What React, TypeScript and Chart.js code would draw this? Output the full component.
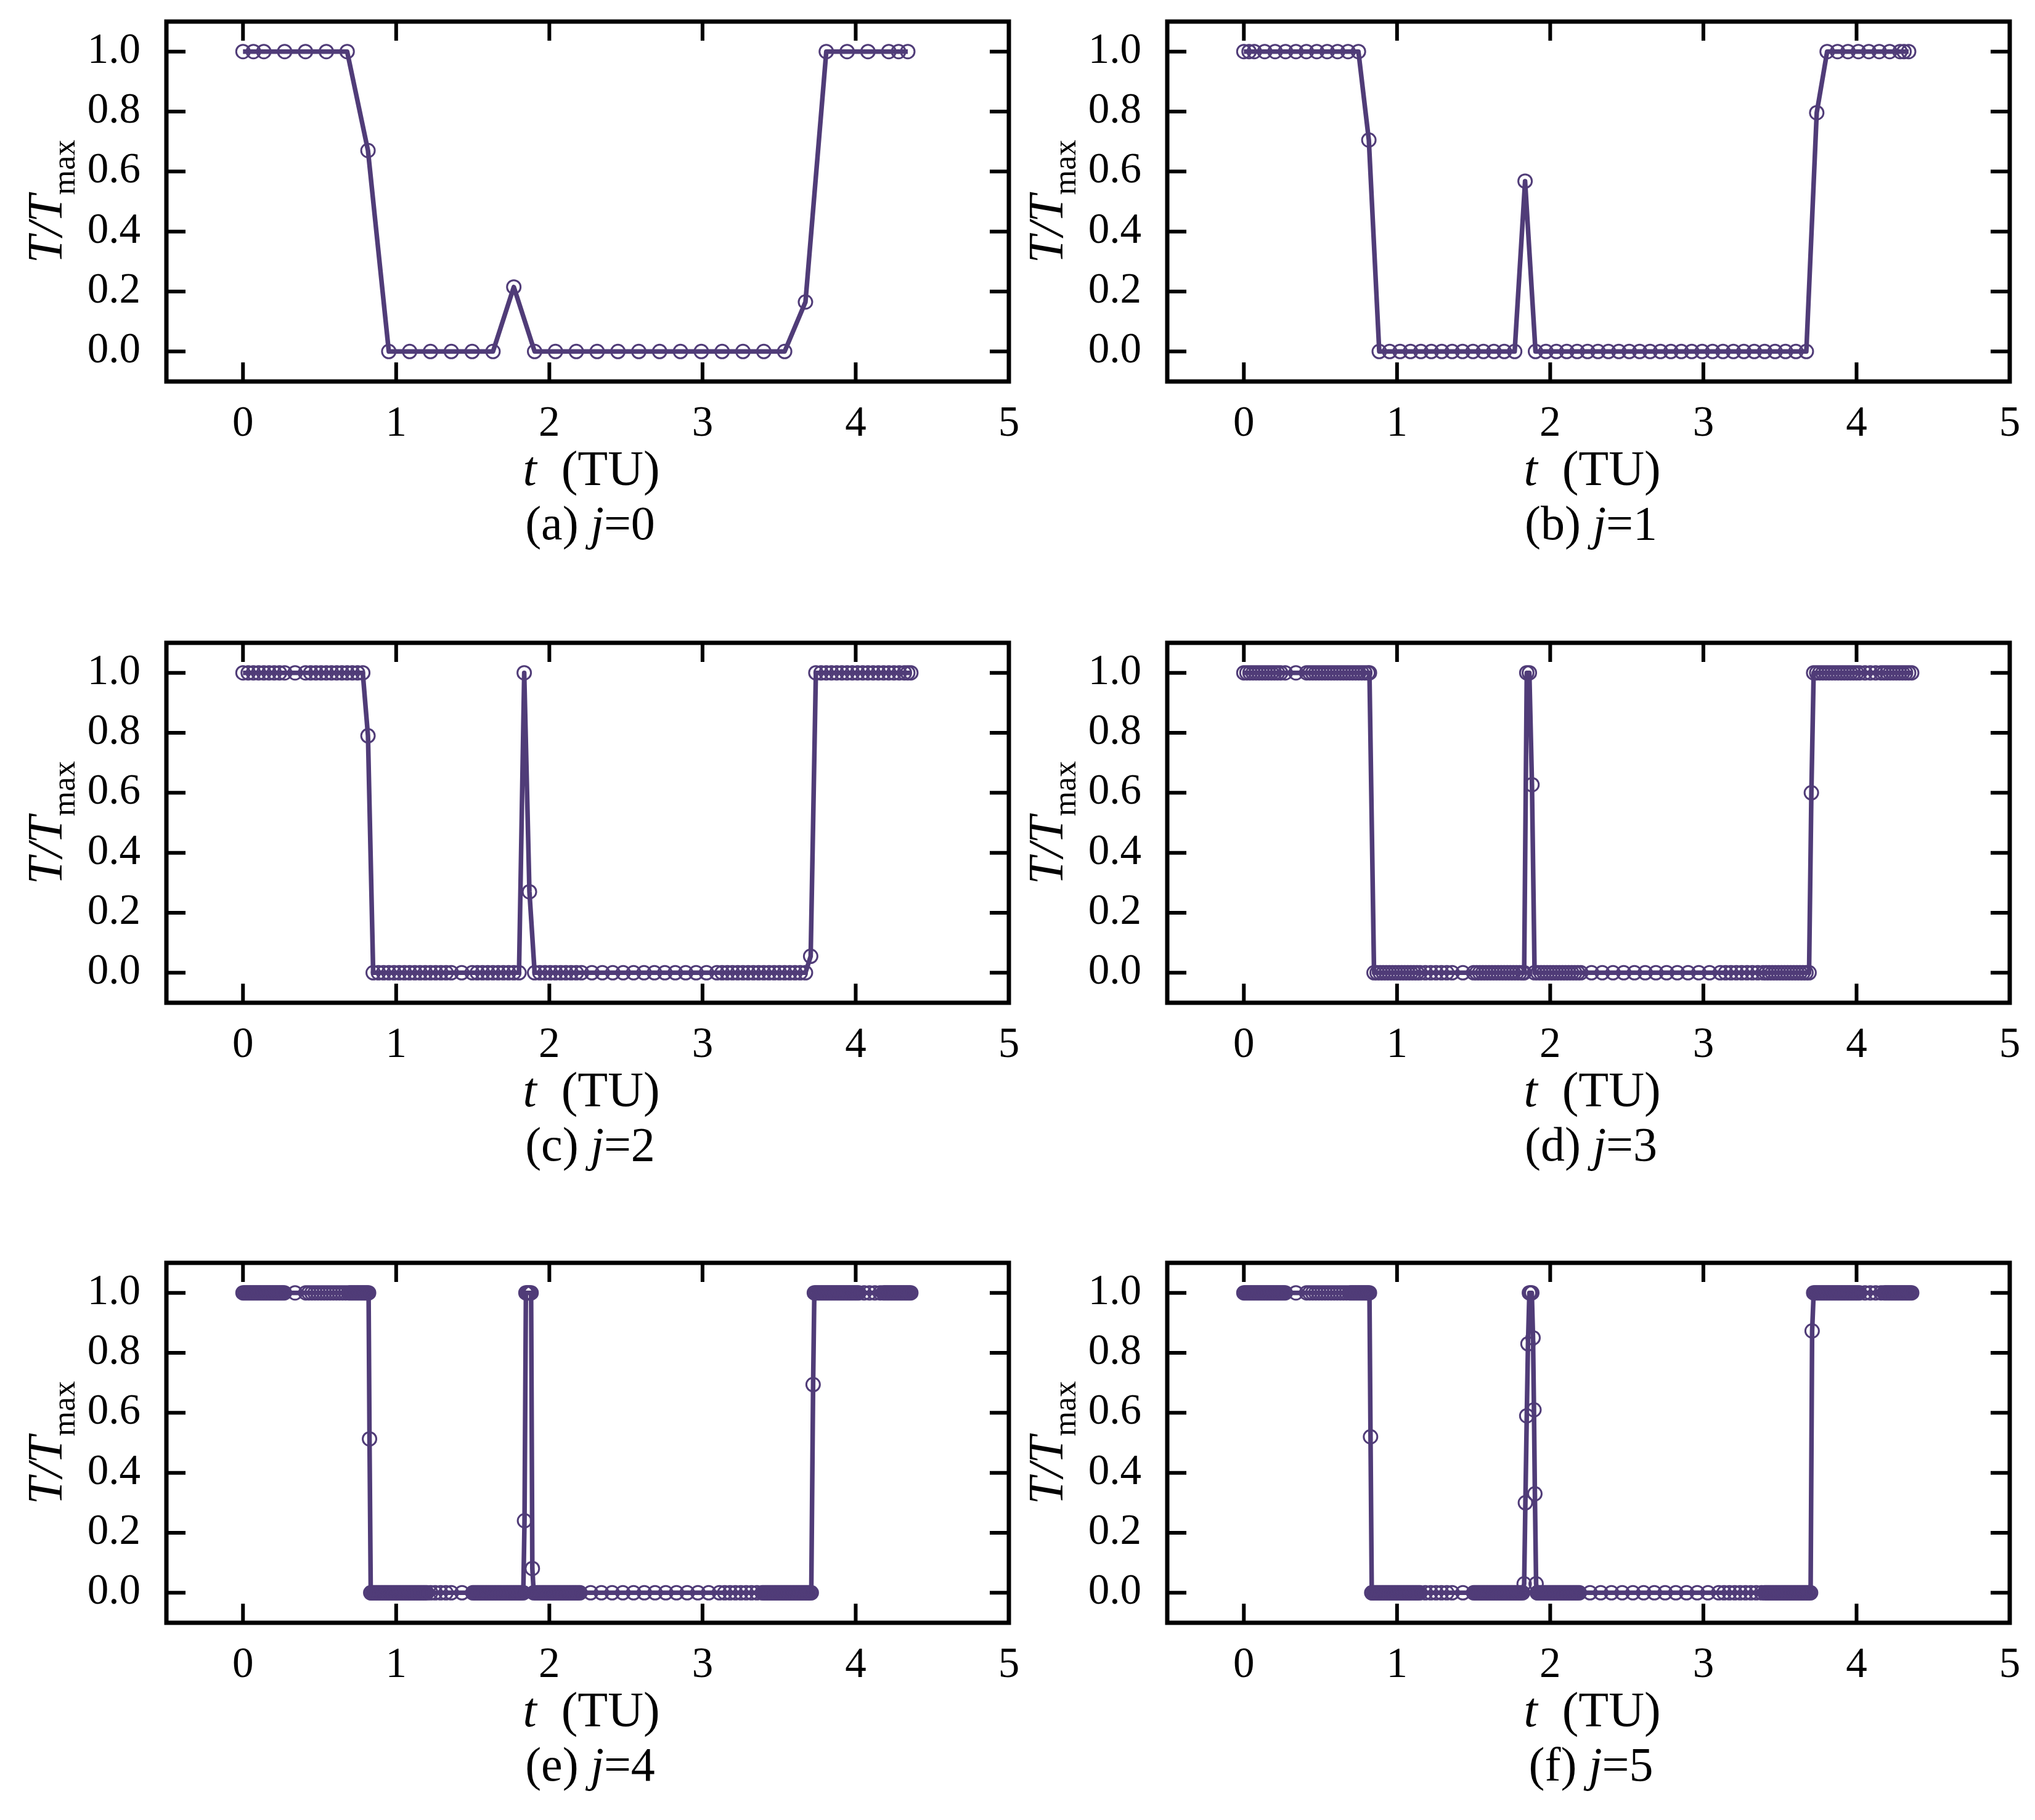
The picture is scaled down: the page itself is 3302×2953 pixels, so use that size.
import React, { useEffect, useRef } from 'react';
import { Chart, registerables } from 'chart.js';

Chart.register(...registerables);

// axis ticks
const xTicks = [0, 1, 2, 3, 4, 5];
const yTicks = [0, 0.2, 0.4, 0.6, 0.8, 1.0];

// panel captions: (letter) j=level
const captionLetters = ['(a)', '(b)', '(c)', '(d)', '(e)', '(f)'];
const levels = ['0', '1', '2', '3', '4', '5'];

// [t (TU), T/Tmax]
const seriesA: number[][] = [
  [0, 1], [0.068, 1], [0.136, 1], [0.272, 1], [0.408, 1], [0.544, 1], [0.68, 1],
  [0.816, 0.67],
  [0.952, 0], [1.088, 0], [1.224, 0], [1.36, 0], [1.496, 0], [1.632, 0],
  [1.768, 0.215],
  [1.904, 0], [2.04, 0], [2.176, 0], [2.312, 0], [2.448, 0], [2.584, 0], [2.72, 0],
  [2.856, 0], [2.992, 0], [3.128, 0], [3.264, 0], [3.4, 0], [3.536, 0],
  [3.672, 0.165],
  [3.808, 1], [3.944, 1], [4.08, 1], [4.216, 1], [4.28, 1], [4.34, 1],
];

const seriesB: number[][] = [
  [0, 1], [0.034, 1], [0.068, 1], [0.136, 1], [0.204, 1], [0.272, 1], [0.34, 1], [0.408, 1],
  [0.476, 1], [0.544, 1], [0.612, 1], [0.68, 1], [0.748, 1],
  [0.816, 0.705],
  [0.884, 0], [0.952, 0], [1.02, 0], [1.088, 0], [1.156, 0], [1.224, 0], [1.292, 0], [1.36, 0],
  [1.428, 0], [1.496, 0], [1.564, 0], [1.632, 0], [1.7, 0], [1.768, 0],
  [1.836, 0.568],
  [1.904, 0], [1.972, 0], [2.04, 0], [2.108, 0], [2.176, 0], [2.244, 0], [2.312, 0], [2.38, 0],
  [2.448, 0], [2.516, 0], [2.584, 0], [2.652, 0], [2.72, 0], [2.788, 0], [2.856, 0], [2.924, 0],
  [2.992, 0], [3.06, 0], [3.128, 0], [3.196, 0], [3.264, 0], [3.332, 0], [3.4, 0], [3.468, 0],
  [3.536, 0], [3.604, 0], [3.672, 0],
  [3.74, 0.796],
  [3.808, 1], [3.876, 1], [3.944, 1], [4.012, 1], [4.08, 1], [4.148, 1], [4.216, 1], [4.284, 1],
  [4.31, 1], [4.34, 1],
];

const seriesC: number[][] = [
  [0, 1], [0.034, 1], [0.068, 1], [0.102, 1], [0.136, 1], [0.17, 1], [0.204, 1], [0.238, 1],
  [0.272, 1], [0.34, 1], [0.408, 1], [0.442, 1], [0.476, 1], [0.51, 1], [0.544, 1], [0.578, 1],
  [0.612, 1], [0.646, 1], [0.68, 1], [0.714, 1], [0.748, 1], [0.782, 1],
  [0.816, 0.79],
  [0.85, 0], [0.884, 0], [0.918, 0], [0.952, 0], [0.986, 0], [1.02, 0], [1.054, 0], [1.088, 0],
  [1.122, 0], [1.156, 0], [1.19, 0], [1.224, 0], [1.258, 0], [1.292, 0], [1.326, 0], [1.36, 0],
  [1.428, 0], [1.496, 0], [1.53, 0], [1.564, 0], [1.598, 0], [1.632, 0], [1.666, 0], [1.7, 0],
  [1.734, 0], [1.768, 0], [1.802, 0],
  [1.836, 1], [1.87, 0.27],
  [1.904, 0], [1.938, 0], [1.972, 0], [2.006, 0], [2.04, 0], [2.074, 0], [2.108, 0], [2.142, 0],
  [2.176, 0], [2.21, 0], [2.278, 0], [2.346, 0], [2.414, 0], [2.482, 0], [2.55, 0], [2.618, 0],
  [2.686, 0], [2.754, 0], [2.822, 0], [2.89, 0], [2.958, 0], [3.026, 0], [3.094, 0], [3.128, 0],
  [3.162, 0], [3.196, 0], [3.23, 0], [3.264, 0], [3.298, 0], [3.332, 0], [3.366, 0], [3.4, 0],
  [3.434, 0], [3.468, 0], [3.502, 0], [3.536, 0], [3.57, 0], [3.604, 0], [3.638, 0], [3.672, 0],
  [3.706, 0.055],
  [3.74, 1], [3.774, 1], [3.808, 1], [3.842, 1], [3.876, 1], [3.91, 1], [3.944, 1], [3.978, 1],
  [4.012, 1], [4.046, 1], [4.08, 1], [4.114, 1], [4.148, 1], [4.182, 1], [4.216, 1], [4.25, 1],
  [4.284, 1], [4.318, 1], [4.34, 1], [4.36, 1],
];

const seriesD: number[][] = [
  [0, 1], [0.02, 1], [0.04, 1], [0.06, 1], [0.08, 1], [0.1, 1], [0.12, 1], [0.14, 1], [0.16, 1],
  [0.18, 1], [0.2, 1], [0.22, 1], [0.24, 1], [0.27, 1], [0.34, 1], [0.41, 1], [0.43, 1], [0.45, 1],
  [0.47, 1], [0.49, 1], [0.51, 1], [0.53, 1], [0.55, 1], [0.57, 1], [0.59, 1], [0.61, 1], [0.63, 1],
  [0.65, 1], [0.67, 1], [0.69, 1], [0.71, 1], [0.73, 1], [0.75, 1], [0.77, 1], [0.79, 1], [0.81, 1],
  [0.82, 1],
  [0.85, 0], [0.87, 0], [0.89, 0], [0.91, 0], [0.93, 0], [0.95, 0], [0.97, 0], [0.99, 0], [1.01, 0],
  [1.03, 0], [1.05, 0], [1.07, 0], [1.09, 0], [1.11, 0], [1.13, 0], [1.15, 0], [1.185, 0], [1.22, 0],
  [1.255, 0], [1.29, 0], [1.325, 0], [1.36, 0], [1.43, 0], [1.5, 0], [1.52, 0], [1.54, 0], [1.56, 0],
  [1.58, 0], [1.6, 0], [1.62, 0], [1.64, 0], [1.66, 0], [1.68, 0], [1.7, 0], [1.72, 0], [1.74, 0],
  [1.76, 0], [1.78, 0], [1.8, 0], [1.82, 0], [1.83, 0],
  [1.847, 1], [1.864, 1], [1.881, 0.627],
  [1.898, 0], [1.92, 0], [1.94, 0], [1.96, 0], [1.98, 0], [2, 0], [2.02, 0], [2.04, 0], [2.06, 0],
  [2.08, 0], [2.1, 0], [2.12, 0], [2.14, 0], [2.16, 0], [2.18, 0], [2.2, 0], [2.27, 0], [2.34, 0],
  [2.41, 0], [2.48, 0], [2.55, 0], [2.62, 0], [2.69, 0], [2.76, 0], [2.83, 0], [2.9, 0], [2.97, 0],
  [3.04, 0], [3.11, 0], [3.145, 0], [3.18, 0], [3.215, 0], [3.25, 0], [3.285, 0], [3.32, 0],
  [3.355, 0], [3.39, 0], [3.41, 0], [3.43, 0], [3.45, 0], [3.47, 0], [3.49, 0], [3.51, 0], [3.53, 0],
  [3.55, 0], [3.57, 0], [3.59, 0], [3.61, 0], [3.63, 0], [3.65, 0], [3.67, 0], [3.69, 0],
  [3.705, 0.6],
  [3.72, 1], [3.74, 1], [3.76, 1], [3.78, 1], [3.8, 1], [3.82, 1], [3.84, 1], [3.86, 1], [3.88, 1],
  [3.9, 1], [3.92, 1], [3.94, 1], [3.96, 1], [3.98, 1], [4, 1], [4.02, 1], [4.055, 1], [4.09, 1],
  [4.125, 1], [4.16, 1], [4.18, 1], [4.2, 1], [4.22, 1], [4.24, 1], [4.26, 1], [4.28, 1], [4.3, 1],
  [4.32, 1], [4.34, 1], [4.36, 1],
];

const seriesE: number[][] = [
  [0, 1], [0.01, 1], [0.02, 1], [0.03, 1], [0.04, 1], [0.05, 1], [0.06, 1], [0.07, 1], [0.08, 1],
  [0.09, 1], [0.1, 1], [0.11, 1], [0.12, 1], [0.13, 1], [0.14, 1], [0.15, 1], [0.16, 1], [0.17, 1],
  [0.18, 1], [0.19, 1], [0.2, 1], [0.21, 1], [0.22, 1], [0.23, 1], [0.24, 1], [0.25, 1], [0.26, 1],
  [0.27, 1], [0.34, 1], [0.41, 1], [0.43, 1], [0.45, 1], [0.47, 1], [0.49, 1], [0.51, 1], [0.53, 1],
  [0.55, 1], [0.57, 1], [0.59, 1], [0.61, 1], [0.63, 1], [0.65, 1], [0.67, 1], [0.69, 1], [0.7, 1],
  [0.71, 1], [0.72, 1], [0.73, 1], [0.74, 1], [0.75, 1], [0.76, 1], [0.77, 1], [0.78, 1], [0.79, 1],
  [0.8, 1], [0.81, 1], [0.82, 1],
  [0.826, 0.513],
  [0.834, 0], [0.84, 0], [0.85, 0], [0.86, 0], [0.87, 0], [0.88, 0], [0.89, 0], [0.9, 0], [0.91, 0],
  [0.92, 0], [0.93, 0], [0.94, 0], [0.95, 0], [0.96, 0], [0.97, 0], [0.98, 0], [0.99, 0], [1, 0],
  [1.01, 0], [1.02, 0], [1.03, 0], [1.04, 0], [1.05, 0], [1.06, 0], [1.07, 0], [1.08, 0], [1.09, 0],
  [1.1, 0], [1.11, 0], [1.12, 0], [1.13, 0], [1.14, 0], [1.15, 0], [1.16, 0], [1.17, 0], [1.18, 0],
  [1.19, 0], [1.2, 0], [1.225, 0], [1.255, 0], [1.29, 0], [1.325, 0], [1.36, 0], [1.43, 0], [1.5, 0],
  [1.51, 0], [1.52, 0], [1.53, 0], [1.54, 0], [1.55, 0], [1.56, 0], [1.57, 0], [1.58, 0], [1.59, 0],
  [1.6, 0], [1.61, 0], [1.62, 0], [1.63, 0], [1.64, 0], [1.65, 0], [1.66, 0], [1.67, 0], [1.68, 0],
  [1.69, 0], [1.7, 0], [1.71, 0], [1.72, 0], [1.73, 0], [1.74, 0], [1.75, 0], [1.76, 0], [1.77, 0],
  [1.78, 0], [1.79, 0], [1.8, 0], [1.81, 0], [1.82, 0], [1.83, 0],
  [1.838, 0.24], [1.847, 1], [1.855, 1], [1.864, 1], [1.872, 1], [1.881, 1], [1.889, 0.081],
  [1.898, 0], [1.91, 0], [1.92, 0], [1.93, 0], [1.94, 0], [1.95, 0], [1.96, 0], [1.97, 0], [1.98, 0],
  [1.99, 0], [2, 0], [2.01, 0], [2.02, 0], [2.03, 0], [2.04, 0], [2.05, 0], [2.06, 0], [2.07, 0],
  [2.08, 0], [2.09, 0], [2.1, 0], [2.11, 0], [2.12, 0], [2.13, 0], [2.14, 0], [2.15, 0], [2.16, 0],
  [2.17, 0], [2.18, 0], [2.19, 0], [2.2, 0], [2.27, 0], [2.34, 0], [2.41, 0], [2.48, 0], [2.55, 0],
  [2.62, 0], [2.69, 0], [2.76, 0], [2.83, 0], [2.9, 0], [2.97, 0], [3.04, 0], [3.11, 0], [3.145, 0],
  [3.18, 0], [3.215, 0], [3.25, 0], [3.285, 0], [3.32, 0], [3.355, 0], [3.39, 0], [3.4, 0], [3.41, 0],
  [3.42, 0], [3.43, 0], [3.44, 0], [3.45, 0], [3.46, 0], [3.47, 0], [3.48, 0], [3.49, 0], [3.5, 0],
  [3.51, 0], [3.52, 0], [3.53, 0], [3.54, 0], [3.55, 0], [3.56, 0], [3.57, 0], [3.58, 0], [3.59, 0],
  [3.6, 0], [3.61, 0], [3.62, 0], [3.63, 0], [3.64, 0], [3.65, 0], [3.66, 0], [3.67, 0], [3.68, 0],
  [3.69, 0], [3.7, 0], [3.71, 0],
  [3.722, 0.694],
  [3.73, 1], [3.74, 1], [3.75, 1], [3.76, 1], [3.77, 1], [3.78, 1], [3.79, 1], [3.8, 1], [3.81, 1],
  [3.82, 1], [3.83, 1], [3.84, 1], [3.85, 1], [3.86, 1], [3.87, 1], [3.88, 1], [3.89, 1], [3.9, 1],
  [3.91, 1], [3.92, 1], [3.93, 1], [3.94, 1], [3.95, 1], [3.96, 1], [3.97, 1], [3.98, 1], [3.99, 1],
  [4, 1], [4.01, 1], [4.02, 1], [4.055, 1], [4.09, 1], [4.125, 1], [4.16, 1], [4.18, 1], [4.19, 1],
  [4.2, 1], [4.21, 1], [4.22, 1], [4.23, 1], [4.24, 1], [4.25, 1], [4.26, 1], [4.27, 1], [4.28, 1],
  [4.29, 1], [4.3, 1], [4.31, 1], [4.32, 1], [4.33, 1], [4.34, 1], [4.35, 1], [4.36, 1],
];

const seriesF: number[][] = [
  [0, 1], [0.01, 1], [0.02, 1], [0.03, 1], [0.04, 1], [0.05, 1], [0.06, 1], [0.07, 1], [0.08, 1],
  [0.09, 1], [0.1, 1], [0.11, 1], [0.12, 1], [0.13, 1], [0.14, 1], [0.15, 1], [0.16, 1], [0.17, 1],
  [0.18, 1], [0.19, 1], [0.2, 1], [0.21, 1], [0.22, 1], [0.23, 1], [0.24, 1], [0.25, 1], [0.26, 1],
  [0.27, 1], [0.34, 1], [0.41, 1], [0.43, 1], [0.45, 1], [0.47, 1], [0.49, 1], [0.51, 1], [0.53, 1],
  [0.55, 1], [0.57, 1], [0.59, 1], [0.61, 1], [0.63, 1], [0.65, 1], [0.67, 1], [0.69, 1], [0.7, 1],
  [0.71, 1], [0.72, 1], [0.73, 1], [0.74, 1], [0.75, 1], [0.76, 1], [0.77, 1], [0.78, 1], [0.79, 1],
  [0.8, 1], [0.81, 1], [0.82, 1],
  [0.827, 0.52],
  [0.835, 0], [0.84, 0], [0.85, 0], [0.86, 0], [0.87, 0], [0.88, 0], [0.89, 0], [0.9, 0], [0.91, 0],
  [0.92, 0], [0.93, 0], [0.94, 0], [0.95, 0], [0.96, 0], [0.97, 0], [0.98, 0], [0.99, 0], [1, 0],
  [1.01, 0], [1.02, 0], [1.03, 0], [1.04, 0], [1.05, 0], [1.06, 0], [1.07, 0], [1.08, 0], [1.09, 0],
  [1.1, 0], [1.11, 0], [1.12, 0], [1.13, 0], [1.14, 0], [1.15, 0], [1.185, 0], [1.22, 0], [1.255, 0],
  [1.29, 0], [1.325, 0], [1.36, 0], [1.43, 0], [1.5, 0], [1.51, 0], [1.52, 0], [1.53, 0], [1.54, 0],
  [1.55, 0], [1.56, 0], [1.57, 0], [1.58, 0], [1.59, 0], [1.6, 0], [1.61, 0], [1.62, 0], [1.63, 0],
  [1.64, 0], [1.65, 0], [1.66, 0], [1.67, 0], [1.68, 0], [1.69, 0], [1.7, 0], [1.71, 0], [1.72, 0],
  [1.73, 0], [1.74, 0], [1.75, 0], [1.76, 0], [1.77, 0], [1.78, 0], [1.79, 0], [1.8, 0], [1.81, 0],
  [1.82, 0],
  [1.83, 0.03], [1.838, 0.3], [1.847, 0.59], [1.855, 0.83], [1.864, 1], [1.872, 1], [1.88, 1],
  [1.888, 0.85], [1.894, 0.61], [1.9, 0.33], [1.908, 0.03],
  [1.915, 0], [1.92, 0], [1.93, 0], [1.94, 0], [1.95, 0], [1.96, 0], [1.97, 0], [1.98, 0], [1.99, 0],
  [2, 0], [2.01, 0], [2.02, 0], [2.03, 0], [2.04, 0], [2.05, 0], [2.06, 0], [2.07, 0], [2.08, 0],
  [2.09, 0], [2.1, 0], [2.11, 0], [2.12, 0], [2.13, 0], [2.14, 0], [2.15, 0], [2.16, 0], [2.17, 0],
  [2.18, 0], [2.19, 0], [2.26, 0], [2.33, 0], [2.4, 0], [2.47, 0], [2.54, 0], [2.61, 0], [2.68, 0],
  [2.75, 0], [2.82, 0], [2.89, 0], [2.96, 0], [3.03, 0], [3.1, 0], [3.135, 0], [3.17, 0], [3.205, 0],
  [3.24, 0], [3.275, 0], [3.31, 0], [3.345, 0], [3.38, 0], [3.4, 0], [3.41, 0], [3.42, 0], [3.43, 0],
  [3.44, 0], [3.45, 0], [3.46, 0], [3.47, 0], [3.48, 0], [3.49, 0], [3.5, 0], [3.51, 0], [3.52, 0],
  [3.53, 0], [3.54, 0], [3.55, 0], [3.56, 0], [3.57, 0], [3.58, 0], [3.59, 0], [3.6, 0], [3.61, 0],
  [3.62, 0], [3.63, 0], [3.64, 0], [3.65, 0], [3.66, 0], [3.67, 0], [3.68, 0], [3.69, 0], [3.7, 0],
  [3.71, 0.873],
  [3.72, 1], [3.73, 1], [3.74, 1], [3.75, 1], [3.76, 1], [3.77, 1], [3.78, 1], [3.79, 1], [3.8, 1],
  [3.81, 1], [3.82, 1], [3.83, 1], [3.84, 1], [3.85, 1], [3.86, 1], [3.87, 1], [3.88, 1], [3.89, 1],
  [3.9, 1], [3.91, 1], [3.92, 1], [3.93, 1], [3.94, 1], [3.95, 1], [3.96, 1], [3.97, 1], [3.98, 1],
  [3.99, 1], [4, 1], [4.01, 1], [4.02, 1], [4.055, 1], [4.09, 1], [4.125, 1], [4.16, 1], [4.18, 1],
  [4.19, 1], [4.2, 1], [4.21, 1], [4.22, 1], [4.23, 1], [4.24, 1], [4.25, 1], [4.26, 1], [4.27, 1],
  [4.28, 1], [4.29, 1], [4.3, 1], [4.31, 1], [4.32, 1], [4.33, 1], [4.34, 1], [4.35, 1], [4.36, 1],
];

const allSeries = [seriesA, seriesB, seriesC, seriesD, seriesE, seriesF];

const LINE_COLOR = '#503c78';
const SERIF = "'Liberation Serif', 'Times New Roman', Times, serif";

const CANVAS_W = 1667;
const CANVAS_H = 904;

type Run = { text: string; font: string; dy?: number };

// draw a line of text made of differently styled pieces, centred on x
function drawRuns(ctx: CanvasRenderingContext2D, runs: Run[], x: number, y: number) {
  const widths = runs.map((r) => {
    ctx.font = r.font;
    return ctx.measureText(r.text).width;
  });
  const total = widths.reduce((s, w) => s + w, 0);
  let cx = x - total / 2;
  runs.forEach((r, i) => {
    ctx.font = r.font;
    ctx.fillText(r.text, cx, y + (r.dy || 0));
    cx += widths[i];
  });
}

function framePlugin(letter: string, level: string) {
  return {
    id: 'frameAndLabels',
    afterDraw(chart: any) {
      const { ctx, chartArea: a, scales } = chart;
      const sx = scales.x;
      const sy = scales.y;
      ctx.save();

      // box
      ctx.strokeStyle = '#000';
      ctx.lineWidth = 7;
      ctx.strokeRect(a.left, a.top, a.right - a.left, a.bottom - a.top);

      // inward ticks on all four sides
      const len = 31;
      ctx.lineWidth = 6;
      ctx.beginPath();
      xTicks.forEach((v) => {
        const px = sx.getPixelForValue(v);
        ctx.moveTo(px, a.bottom);
        ctx.lineTo(px, a.bottom - len);
        ctx.moveTo(px, a.top);
        ctx.lineTo(px, a.top + len);
      });
      yTicks.forEach((v) => {
        const py = sy.getPixelForValue(v);
        ctx.moveTo(a.left, py);
        ctx.lineTo(a.left + len, py);
        ctx.moveTo(a.right, py);
        ctx.lineTo(a.right - len, py);
      });
      ctx.stroke();

      ctx.fillStyle = '#000';
      ctx.textAlign = 'left';
      ctx.textBaseline = 'alphabetic';
      const cx = (a.left + a.right) / 2;

      // x axis title
      drawRuns(
        ctx,
        [
          { text: 't', font: `italic 80px ${SERIF}` },
          { text: '  (TU)', font: `80px ${SERIF}` },
        ],
        cx + 6,
        a.bottom + 168
      );

      // caption
      drawRuns(
        ctx,
        [
          { text: letter + ' ', font: `78px ${SERIF}` },
          { text: 'j', font: `italic 78px ${SERIF}` },
          { text: '=' + level, font: `78px ${SERIF}` },
        ],
        cx + 4,
        a.bottom + 256
      );

      // y axis title, rotated
      ctx.translate(a.left - 170, (a.top + a.bottom) / 2);
      ctx.rotate(-Math.PI / 2);
      drawRuns(
        ctx,
        [
          { text: 'T/T', font: `italic 80px ${SERIF}` },
          { text: 'max', font: `52px ${SERIF}`, dy: 21 },
        ],
        0,
        0
      );
      ctx.restore();
    },
  };
}

const Panel: React.FC<{ index: number }> = ({ index }) => {
  const canvasRef = useRef<HTMLCanvasElement>(null);
  const chartRef = useRef<Chart | null>(null);

  useEffect(() => {
    if (!canvasRef.current) return;
    const points = allSeries[index].map(([t, v]) => ({ x: t, y: v }));
    chartRef.current = new Chart(canvasRef.current, {
      type: 'line',
      data: {
        datasets: [
          {
            data: points,
            borderColor: LINE_COLOR,
            borderWidth: 7.5,
            borderJoinStyle: 'round',
            tension: 0,
            fill: false,
            pointStyle: 'circle',
            pointRadius: 11,
            pointBorderWidth: 3,
            pointBorderColor: LINE_COLOR,
            pointBackgroundColor: 'rgba(0,0,0,0)',
          },
        ],
      },
      options: {
        responsive: false,
        animation: false,
        events: [],
        layout: { padding: { top: 30, right: 30, bottom: 0, left: 0 } },
        plugins: {
          legend: { display: false },
          tooltip: { enabled: false },
        },
        scales: {
          x: {
            type: 'linear',
            min: -0.5,
            max: 5,
            grid: { display: false },
            border: { display: false },
            afterBuildTicks: (s: any) => {
              s.ticks = xTicks.map((value) => ({ value }));
            },
            afterFit: (s: any) => {
              s.height = 290;
              s.paddingLeft = 0;
              s.paddingRight = 0;
            },
            ticks: {
              color: '#000',
              padding: 20,
              maxRotation: 0,
              autoSkip: false,
              font: { family: SERIF, size: 69 },
              callback: (v: any) => String(v),
            },
          },
          y: {
            type: 'linear',
            min: -0.1,
            max: 1.1,
            grid: { display: false },
            border: { display: false },
            afterBuildTicks: (s: any) => {
              s.ticks = yTicks.map((value) => ({ value }));
            },
            afterFit: (s: any) => {
              s.width = 270;
              s.paddingTop = 0;
              s.paddingBottom = 0;
            },
            ticks: {
              color: '#000',
              padding: 34,
              autoSkip: false,
              font: { family: SERIF, size: 69 },
              callback: (v: any) => Number(v).toFixed(1),
            },
          },
        },
      },
      plugins: [framePlugin(captionLetters[index], levels[index])],
    } as any);

    return () => {
      if (chartRef.current) {
        chartRef.current.destroy();
        chartRef.current = null;
      }
    };
  }, [index]);

  const col = index % 2;
  const row = Math.floor(index / 2);
  const left = col === 0 ? 0 : 1624;
  const top = [5, 1013, 2019][row];

  return (
    <canvas
      ref={canvasRef}
      width={CANVAS_W}
      height={CANVAS_H}
      style={{ position: 'absolute', left, top, width: CANVAS_W, height: CANVAS_H }}
    />
  );
};

const App: React.FC = () => {
  return (
    <div
      style={{
        position: 'absolute',
        left: 0,
        top: 0,
        width: 3302,
        height: 2953,
        background: '#fff',
        overflow: 'hidden',
      }}
    >
      {allSeries.map((_, i) => (
        <Panel key={i} index={i} />
      ))}
    </div>
  );
};

export default App;
